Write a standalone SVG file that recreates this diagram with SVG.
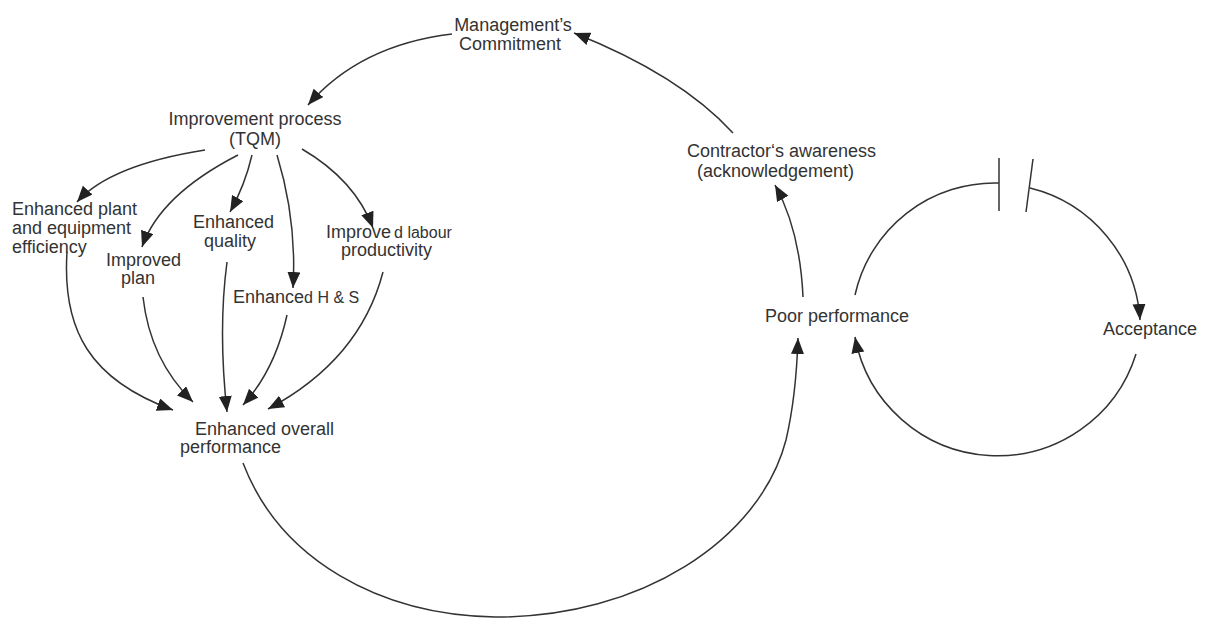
<svg xmlns="http://www.w3.org/2000/svg" width="1206" height="619" viewBox="0 0 1206 619">
<defs>
<marker id="ah" markerUnits="userSpaceOnUse" markerWidth="17" markerHeight="14" refX="16" refY="6.5" orient="auto">
<path d="M0,0 L16,6.5 L0,13 z" fill="#222"/>
</marker>
<style>
text{font-family:"Liberation Sans",Arial,sans-serif;font-size:18px;fill:#333}
.c{fill:none;stroke:#333;stroke-width:1.5}
.a{marker-end:url(#ah)}
.sm{font-size:16px}
</style>
</defs>
<rect width="1206" height="619" fill="#fff"/>
<g id="connectors">
<path class="c a" d="M733,133 Q680,75 574,33"/>
<path class="c a" d="M452,34 Q360,45 308,105"/>
<path class="c a" d="M205,150 Q110,165 77,202"/>
<path class="c a" d="M238,155 Q160,195 142,247"/>
<path class="c a" d="M252,155 Q245,185 230,212"/>
<path class="c a" d="M277,155 Q297,220 293,288"/>
<path class="c a" d="M302,149 Q355,180 373,228"/>
<path class="c a" d="M67,252 C62,330 90,380 173,410"/>
<path class="c a" d="M143,297 Q150,360 193,402"/>
<path class="c a" d="M227,262 Q218,330 227,412"/>
<path class="c a" d="M287,315 Q275,370 243,405"/>
<path class="c a" d="M383,272 Q360,360 268,409"/>
<path class="c a" d="M243,463 C280,560 380,615 495,617 C640,618 760,540 786,440 C793,410 797,370 798,338"/>
<path class="c a" d="M803,297 Q800,230 775,185"/>
<path class="c" d="M855,295 A143,143 0 0 1 999,183"/>
<path class="c" d="M999,158 L999,211"/>
<path class="c" d="M1033,159 L1026,212"/>
<path class="c a" d="M1030,188 A145,145 0 0 1 1140,320"/>
<path class="c a" d="M1136,354 A145,145 0 0 1 855,337"/>
</g>
<g id="management"><text x="513" y="31" text-anchor="middle">Management’s</text><text x="510" y="50" text-anchor="middle">Commitment</text></g>
<g id="improvement"><text x="255" y="125" text-anchor="middle">Improvement process</text><text x="255" y="145" text-anchor="middle">(TQM)</text></g>
<g id="plant"><text x="12" y="215">Enhanced plant</text><text x="12" y="234">and equipment</text><text x="12" y="253">efficiency</text></g>
<g id="plan"><text x="106" y="266">Improved</text><text x="121" y="284">plan</text></g>
<g id="quality"><text x="193" y="228">Enhanced</text><text x="204" y="247">quality</text></g>
<g id="hs"><text x="233" y="303">Enhance<tspan class="sm">d H &amp; S</tspan></text></g>
<g id="labour"><text x="326" y="238">Improve<tspan class="sm" dx="3">d labour</tspan></text><text x="341" y="256">productivity</text></g>
<g id="overall"><text x="195" y="435">Enhanced overall</text><text x="180" y="453">performance</text></g>
<g id="awareness"><text x="687" y="157">Contractor‘s awareness</text><text x="697" y="177">(acknowledgement)</text></g>
<g id="poor"><text x="765" y="322">Poor performance</text></g>
<g id="acceptance"><text x="1103" y="335">Acceptance</text></g>
</svg>
